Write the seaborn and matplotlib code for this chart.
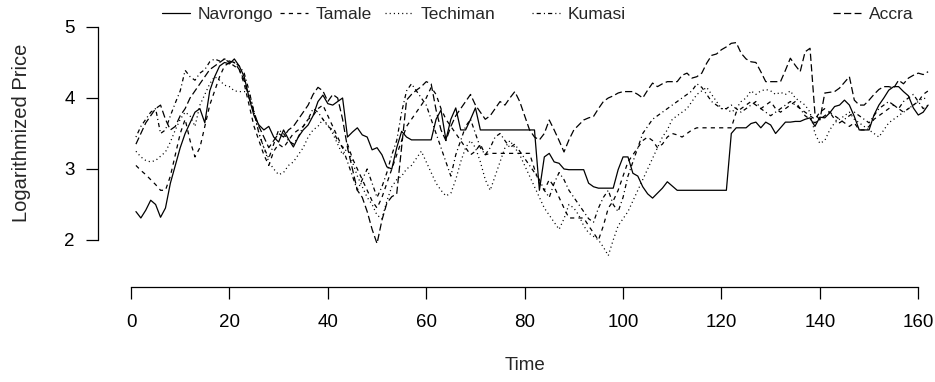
import pandas as pd
import matplotlib
matplotlib.use("Agg")
import matplotlib.pyplot as plt
from matplotlib.lines import Line2D
import seaborn as sns

# Data
time = list(range(1, 163))

navrongo = [2.40, 2.31, 2.42, 2.56, 2.50, 2.32, 2.45, 2.80, 3.05, 3.30,
            3.50, 3.65, 3.80, 3.85, 3.65, 4.10, 4.30, 4.45, 4.50, 4.48,
            4.55, 4.45, 4.30, 4.00, 3.75, 3.62, 3.55, 3.60, 3.45, 3.38,
            3.55, 3.42, 3.31, 3.45, 3.55, 3.62, 3.75, 3.95, 4.04, 3.92,
            3.90, 3.95, 4.00, 3.45, 3.52, 3.58, 3.48, 3.45, 3.27, 3.30,
            3.20, 3.03, 3.00, 3.30, 3.53, 3.45, 3.41, 3.41, 3.41, 3.41,
            3.41, 3.70, 3.83, 3.41, 3.70, 3.86, 3.55, 3.55, 3.70, 3.86,
            3.55, 3.55, 3.55, 3.55, 3.55, 3.55, 3.55, 3.55, 3.55, 3.55,
            3.55, 3.55, 2.70, 3.17, 3.22, 3.10, 3.08, 3.00, 2.99, 2.99,
            2.99, 2.99, 2.80, 2.75, 2.73, 2.73, 2.73, 2.73, 2.99, 3.17,
            3.17, 2.94, 2.90, 2.75, 2.65, 2.59, 2.66, 2.73, 2.82, 2.76,
            2.70, 2.70, 2.70, 2.70, 2.70, 2.70, 2.70, 2.70, 2.70, 2.70,
            2.70, 3.50, 3.58, 3.58, 3.58, 3.64, 3.66, 3.58, 3.66, 3.62,
            3.50, 3.58, 3.66, 3.66, 3.67, 3.67, 3.70, 3.72, 3.60, 3.73,
            3.72, 3.79, 3.88, 3.90, 3.97, 3.90, 3.74, 3.55, 3.55, 3.55,
            3.76, 3.90, 4.00, 4.11, 4.16, 4.16, 4.09, 4.03, 3.86, 3.76, 3.80, 3.90]

tamale = [3.05, 2.98, 2.92, 2.85, 2.78, 2.70, 2.70, 2.90, 3.20, 3.50,
          3.70, 3.40, 3.17, 3.30, 3.60, 3.90, 4.10, 4.30, 4.45, 4.50,
          4.45, 4.40, 4.20, 3.90, 3.60, 3.40, 3.20, 3.05, 3.25, 3.35,
          3.30, 3.40, 3.50, 3.55, 3.60, 3.70, 3.75, 3.85, 3.90, 3.75,
          3.60, 3.45, 3.30, 3.35, 3.15, 3.00, 2.85, 2.70, 2.55, 2.45,
          2.60, 2.80, 3.00, 3.20, 3.40, 3.60, 3.70, 3.80, 3.90, 4.00,
          4.15, 4.05, 3.85, 3.70, 3.60, 3.50, 3.40, 3.30, 3.20, 3.25,
          3.35, 3.20, 3.22, 3.22, 3.22, 3.22, 3.22, 3.22, 3.22, 3.22,
          3.22, 3.00, 2.80, 2.70, 2.85, 2.75, 2.60, 2.45, 2.31, 2.31,
          2.31, 2.31, 2.20, 2.10, 2.00, 2.20, 2.45, 2.55, 2.70, 2.90,
          3.10, 3.20, 3.30, 3.40, 3.45, 3.40, 3.30, 3.35, 3.45, 3.50,
          3.48, 3.45, 3.50, 3.55, 3.58, 3.58, 3.58, 3.58, 3.58, 3.58,
          3.58, 3.58, 3.80, 3.85, 3.90, 3.95, 3.90, 3.85, 3.90, 3.95,
          3.85, 3.80, 3.85, 3.90, 3.95, 3.85, 3.80, 3.75, 3.70, 3.80,
          3.85, 3.80, 3.75, 3.70, 3.65, 3.60, 3.65, 3.55, 3.55, 3.60,
          3.70, 3.75, 3.80, 3.85, 3.90, 3.85, 3.80, 3.85, 3.90, 3.95, 4.05, 4.10]

techiman = [3.25, 3.17, 3.12, 3.10, 3.12, 3.18, 3.24, 3.38, 3.55, 3.70,
            3.80, 3.75, 3.60, 3.90, 4.05, 4.20, 4.30, 4.25, 4.18, 4.16,
            4.10, 4.09, 4.09, 4.09, 3.80, 3.50, 3.30, 3.10, 3.00, 2.92,
            2.95, 3.05, 3.10, 3.20, 3.30, 3.45, 3.55, 3.60, 3.70, 3.62,
            3.50, 3.35, 3.20, 3.30, 3.10, 2.90, 2.75, 2.60, 2.50, 2.35,
            2.30, 2.55, 2.75, 2.85, 2.90, 3.00, 3.05, 3.15, 3.25, 3.10,
            2.95, 2.80, 2.70, 2.62, 2.66, 2.85, 3.10, 3.30, 3.40, 3.30,
            3.10, 2.85, 2.70, 2.90, 3.10, 3.30, 3.40, 3.30, 3.20, 3.05,
            2.90, 2.75, 2.60, 2.45, 2.35, 2.25, 2.15, 2.30, 2.50, 2.45,
            2.35, 2.20, 2.10, 2.05, 2.00, 1.90, 1.78, 2.00, 2.20, 2.30,
            2.40, 2.55, 2.70, 2.85, 3.00, 3.15, 3.30, 3.45, 3.55, 3.70,
            3.75, 3.80, 3.85, 3.95, 4.05, 4.10, 4.15, 4.05, 3.95, 3.85,
            3.85, 3.80, 3.85, 3.95, 4.00, 4.10, 4.05, 4.10, 4.12, 4.10,
            4.05, 4.08, 4.05, 4.10, 4.00, 3.95, 3.90, 3.80, 3.50, 3.36,
            3.40, 3.55, 3.65, 3.70, 3.75, 3.80, 3.70, 3.65, 3.60, 3.55,
            3.50, 3.45, 3.55, 3.65, 3.70, 3.75, 3.80, 3.85, 3.90, 3.95, 4.00, 3.98]

kumasi = [3.45, 3.60, 3.70, 3.80, 3.85, 3.50, 3.55, 3.75, 3.93, 4.10,
          4.39, 4.30, 4.25, 4.35, 4.40, 4.51, 4.55, 4.52, 4.55, 4.50,
          4.50, 4.45, 4.35, 4.10, 3.80, 3.50, 3.30, 3.15, 3.35, 3.55,
          3.50, 3.40, 3.35, 3.45, 3.60, 3.70, 3.85, 3.80, 3.70, 3.60,
          3.55, 3.40, 3.30, 3.10, 2.90, 2.70, 2.85, 3.00, 2.80, 2.60,
          2.75, 2.95, 3.20, 3.40, 3.80, 4.10, 4.20, 4.10, 4.00, 3.90,
          3.70, 3.50, 3.30, 3.10, 2.90, 3.20, 3.40, 3.60, 3.70, 3.50,
          3.30, 3.20, 3.30, 3.45, 3.50, 3.40, 3.30, 3.35, 3.25, 3.15,
          3.05, 2.95, 2.85, 2.70, 2.60, 2.80, 2.95, 2.85, 2.70, 2.60,
          2.50, 2.40, 2.30, 2.25, 2.45, 2.60, 2.70, 2.50, 2.40, 2.60,
          2.90, 3.10, 3.30, 3.50, 3.60, 3.70, 3.75, 3.80, 3.85, 3.90,
          3.95, 4.00, 4.05, 4.10, 4.20, 4.15, 4.05, 3.95, 3.90, 3.85,
          3.85, 3.90, 3.85, 3.80, 3.85, 3.90, 3.95, 3.85, 3.80, 3.75,
          3.80, 3.85, 3.90, 3.95, 3.90, 3.85, 3.75, 3.70, 3.65, 3.70,
          3.75, 3.80, 3.70, 3.65, 3.70, 3.75, 3.80, 3.75, 3.70, 3.65,
          3.75, 3.85, 3.90, 3.95, 3.90, 3.85, 3.95, 4.00, 4.05, 3.95, 3.85, 3.90]

accra = [3.35, 3.50, 3.65, 3.75, 3.85, 3.90, 3.70, 3.55, 3.60, 3.75,
         3.85, 4.00, 4.10, 4.20, 4.30, 4.40, 4.45, 4.50, 4.55, 4.52,
         4.50, 4.40, 4.25, 4.00, 3.80, 3.60, 3.45, 3.30, 3.40, 3.50,
         3.45, 3.55, 3.60, 3.70, 3.80, 3.90, 4.05, 4.15, 4.10, 3.95,
         4.05, 4.00, 3.70, 3.30, 3.00, 2.70, 2.60, 2.40, 2.15, 1.95,
         2.28, 2.52, 2.61, 2.65, 3.31, 3.97, 4.05, 4.11, 4.16, 4.23,
         4.20, 3.83, 3.55, 3.40, 3.60, 3.75, 3.85, 3.95, 4.05, 3.90,
         3.80, 3.70, 3.75, 3.85, 3.95, 3.90, 4.00, 4.09, 3.95, 3.75,
         3.55, 3.45, 3.41, 3.50, 3.69, 3.55, 3.40, 3.24, 3.41, 3.55,
         3.62, 3.69, 3.72, 3.74, 3.85, 3.95, 4.00, 4.03, 4.07, 4.09,
         4.09, 4.09, 4.05, 4.00, 4.11, 4.21, 4.16, 4.20, 4.23, 4.23,
         4.23, 4.32, 4.35, 4.28, 4.30, 4.35, 4.49, 4.60, 4.62, 4.68,
         4.72, 4.77, 4.78, 4.63, 4.55, 4.51, 4.50, 4.37, 4.23, 4.23,
         4.23, 4.23, 4.39, 4.56, 4.46, 4.37, 4.65, 4.70, 3.78, 3.69,
         4.07, 4.08, 4.09, 4.14, 4.22, 4.30, 3.97, 3.90, 3.90, 3.97,
         4.05, 4.12, 4.16, 4.16, 4.14, 4.25, 4.20, 4.28, 4.32, 4.35, 4.33, 4.37]

markets = ["Navrongo", "Tamale", "Techiman", "Kumasi", "Accra"]
series = [navrongo, tamale, techiman, kumasi, accra]

# R style line types: solid, dashed, dotted, dotdash, longdash
dash_styles = {"Navrongo": "", "Tamale": (3.0, 3.0), "Techiman": (0.8, 2.2),
               "Kumasi": (0.8, 2.2, 3.0, 2.2), "Accra": (5.2, 2.4)}

df = pd.concat(
    [pd.DataFrame({"Time": time, "Price": vals, "Market": name})
     for name, vals in zip(markets, series)],
    ignore_index=True,
)

sns.set_style("ticks")
plt.rcParams["font.family"] = ["Liberation Sans", "DejaVu Sans"]
plt.rcParams["lines.scale_dashes"] = False

W, H = 935, 382
FS = 13.5
fig = plt.figure(figsize=(W / 100, H / 100), dpi=100)
ax = fig.add_axes([98 / W, 1 - 287 / H, 1 - 98 / W, 287 / H])

sns.lineplot(data=df, x="Time", y="Price", style="Market", style_order=markets,
             dashes=dash_styles, color="black", linewidth=0.9,
             estimator=None, legend=False, ax=ax)

ax.set_xlim(-6.71, 163.4)
ax.set_ylim(1.338, 5.38)
ax.set_xticks(range(0, 161, 20))
ax.set_yticks([2, 3, 4, 5])
ax.set_xlabel("")
ax.set_ylabel("")

for side in ["top", "right"]:
    ax.spines[side].set_visible(False)
ax.spines["left"].set_bounds(2, 5)
ax.spines["bottom"].set_bounds(0, 160)
for side in ["left", "bottom"]:
    ax.spines[side].set_color("black")
    ax.spines[side].set_linewidth(0.9)

ax.tick_params(axis="both", direction="out", length=8.6, width=0.9,
               color="black", labelsize=FS, labelcolor="black",
               bottom=True, left=True)
ax.tick_params(axis="x", pad=11)
ax.tick_params(axis="y", pad=8)

fig.text(525 / W, 1 - 365 / H, "Time", ha="center", va="center", fontsize=FS)
fig.text(22 / W, 1 - 133 / H, "Logarithmized Price", ha="center", va="center",
         rotation=90, fontsize=14.5)

# horizontal legend along the top, one entry at a time (R-like placement)
legend_x = [162, 280, 385, 532, 833]
for name, x0 in zip(markets, legend_x):
    d = dash_styles[name]
    if d == "":
        h = Line2D([], [], color="black", lw=0.9, linestyle="-")
    else:
        h = Line2D([], [], color="black", lw=0.9, dashes=d)
    fig.legend(handles=[h], labels=[name], loc="center left",
               bbox_to_anchor=(x0 / W, 1 - 14 / H), frameon=False,
               fontsize=12.5, handlelength=1.6, handletextpad=0.45,
               borderpad=0, borderaxespad=0)

fig.savefig("out.png", dpi=100)
